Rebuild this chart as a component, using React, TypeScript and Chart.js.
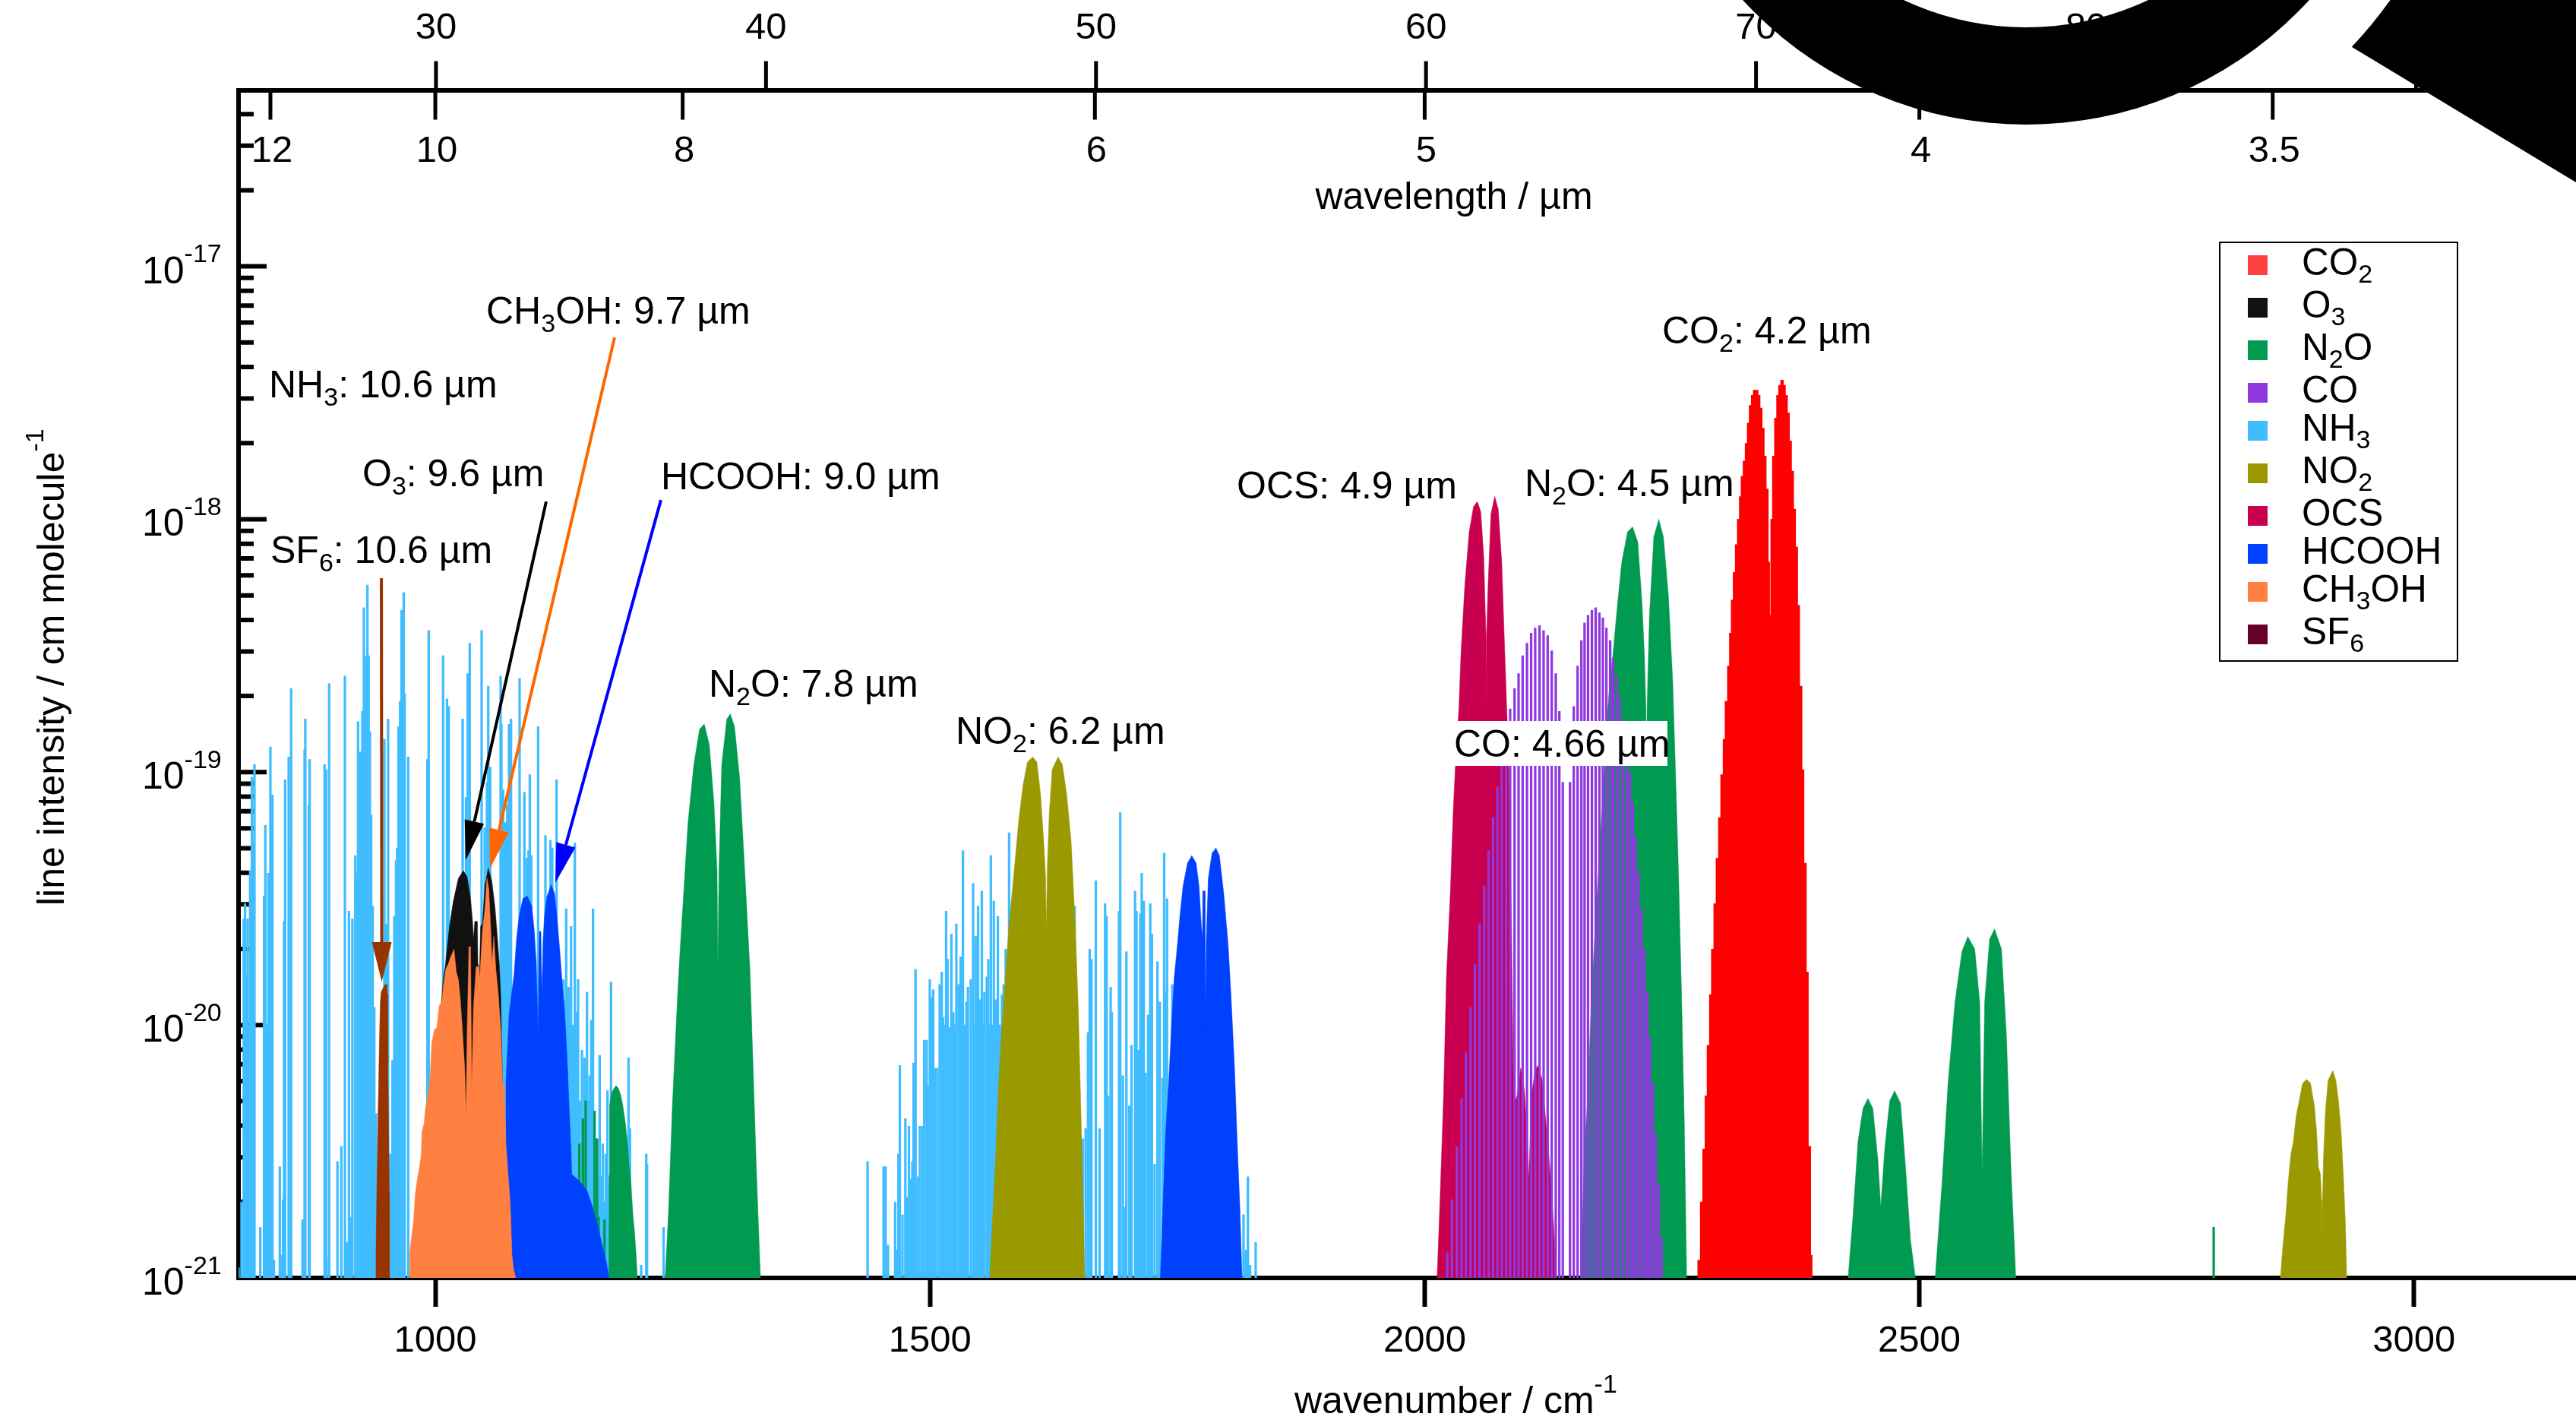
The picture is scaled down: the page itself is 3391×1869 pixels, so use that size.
import React, { useEffect, useRef } from "react";
import { Chart, registerables } from "chart.js";

Chart.register(...registerables);

const FONT = '"Liberation Sans", Arial, sans-serif';

// Axis values
const wavenumberTicks = [1000, 1500, 2000, 2500, 3000];
const wavelengthTicks = [12, 10, 8, 6, 5, 4, 3.5];
const frequencyTicks = [30, 40, 50, 60, 70, 80, 90];
const decadeExponents = [-17, -18, -19, -20, -21];
const minorMultipliers = [2, 3, 4, 5, 6, 7, 8, 9];
const X_MIN = 801.1;
const X_MAX = 3163.7;
const Y_MIN = 1e-21;
const Y_MAX = 4.98e-17;

// Each table: [wavenumber / cm-1, log10(line intensity)]
const nh3Lines = [
  [801.1,-20.96],[804.1,-20.70],[806.4,-19.58],[807.7,-19.52],[809,-19.8],[810.3,-19.58],[811.5,-20],[812.8,-19.39],[814.6,-19.02],[815.9,-19.28],[817.2,-18.97],
  [823.1,-20.80],[826.9,-19.49],[828.2,-19.21],[829.7,-20],[831.3,-19.40],[833.3,-18.90],[835.4,-19.09],[836.9,-20.93],
  [842.8,-20.56],[844.8,-20.91],[846.1,-20.69],[847.1,-19.59],[848.2,-19.03],[851.8,-18.94],[853,-19.3],[854.3,-18.67],
  [865.8,-20.77],[867.9,-18.91],[868.6,-18.79],[872.2,-19.13],[873,-18.95],[888.1,-18.97],[889.6,-18.99],[890.1,-20.92],[892.7,-18.65],
  [901.1,-20.54],[905,-20.48],[908.6,-18.62],[910.6,-20.86],[912.7,-19.55],[914.5,-20.76],[916.2,-19.58],[919.1,-19.33],[920.5,-19.4],[921.9,-18.80],[923,-19.5],[924.2,-18.92],
  [926.2,-18.76],[927.8,-18.35],[929,-18.57],[930.1,-18.54],[931.4,-18.26],[932.6,-18.54],[933.9,-18.84],[935.2,-19.17],[936.7,-19.53],[938.3,-19.93],[940,-20.35],
  [948.5,-18.87],[950.4,-19.6],[952.3,-18.79],[954.6,-20.51],[956.7,-20.14],[958.5,-19.57],[960.3,-19.35],[961.3,-19.30],[962.8,-18.82],[964.4,-18.72],[965.9,-18.36],[968,-18.29],[969,-18.69],[972.6,-18.94],
  [992,-18.95],[993.3,-18.44],[1007.9,-18.54],[1011.8,-18.71],[1013.5,-18.74],[1027.6,-18.79],[1031,-19.10],[1032.7,-18.61],[1034.8,-18.49],
  [1046.8,-18.44],[1049.9,-19.22],[1052.2,-19.04],[1053.5,-18.66],[1055.5,-18.98],[1066,-18.62],[1066.8,-18.81],[1068.6,-19.07],[1071.1,-19.20],[1072.7,-19.13],[1074.5,-18.81],[1076.5,-18.79],
  [1085.2,-18.63],[1090,-19.08],[1092.4,-19.34],[1094.2,-19.31],[1095.5,-19.01],[1097,-19.33],[1103.9,-18.82],[1111.3,-19.25],[1116.4,-19.27],[1118.2,-19.30],[1122.6,-19.03],
  [1129.5,-19.82],[1131,-19.9],[1132.3,-19.54],[1133.3,-19.9],[1134.6,-19.85],[1136,-19.95],[1137.2,-19.61],[1139,-20],[1141,-19.28],[1142.5,-19.95],[1144.3,-19.82],[1146,-20.3],
  [1148.2,-20.10],[1150.7,-20.13],[1152,-20.25],[1153.3,-19.87],[1154.5,-20.3],[1155.9,-20.20],[1157.6,-19.98],[1159.4,-19.54],[1161,-20.5],[1162.8,-20.45],[1164.5,-20.6],[1166.1,-20.12],[1167.6,-20.6],
  [1169.2,-20.47],[1170.8,-20.7],[1172.2,-20.51],[1174,-20.26],[1176,-20.6],[1177.6,-19.83],[1180,-20.7],[1182,-20.7],[1183.8,-20.75],[1187.3,-20.49],[1190.2,-20.86],[1192.2,-20.92],[1195.3,-20.13],[1196.8,-20.41],
  [1208.1,-20.95],[1213.2,-20.51],[1214,-20.55],[1230.7,-20.80],
  [1436.9,-20.54],[1453.1,-20.56],[1455.1,-20.56],[1457.5,-20.87],[1464.8,-20.70],[1466.3,-20.89],[1468.1,-20.51],[1469.5,-20.16],[1472.2,-20.75],[1475.1,-20.37],[1476.3,-20.68],[1478.7,-20.40],[1480.4,-20.61],[1482.2,-20.54],[1483.4,-20.15],[1485.4,-19.78],
  [1487.6,-20.6],[1489.8,-20.40],[1492.2,-20.40],[1494.2,-20.06],[1496.6,-20.06],[1497.7,-20.24],[1499.8,-19.82],[1501.6,-19.89],[1503.3,-19.86],[1505.1,-20.17],[1507.4,-20.17],[1509.8,-19.84],[1511.9,-19.79],[1513.3,-19.97],[1515,-20],[1516.3,-19.55],[1517.7,-19.74],[1519.8,-20.01],[1521.6,-19.64],[1523.6,-19.95],[1525,-20],[1526.6,-19.60],
  [1528.9,-19.84],[1531,-19.73],[1533.3,-19.31],[1535,-20],[1536.8,-19.91],[1538.3,-19.85],[1541.2,-19.82],[1543.6,-19.44],[1545,-20],[1546.2,-19.65],[1548.6,-19.53],[1550.5,-19.9],[1552.4,-19.47],[1553.7,-20],[1555,-19.87],[1557.4,-19.81],[1558.9,-19.74],[1560,-20],[1561.5,-19.33],[1563,-20],[1564.5,-19.51],[1566.5,-19.9],[1568.6,-19.57],[1570.7,-20],[1572.7,-19.88],[1574.4,-19.84],[1576.5,-19.70],[1580,-19.24],
  [1646.2,-19.53],[1654.4,-20.45],[1657.3,-20.41],[1659.7,-20.03],[1661.4,-19.70],[1663.2,-19.74],[1667.6,-19.43],[1671.4,-20.41],[1677,-19.52],[1678.5,-19.57],[1680.2,-20.28],[1682.6,-19.85],[1683.8,-19.95],
  [1691.1,-19.55],[1692.3,-19.16],[1694.9,-20.20],[1697,-20.72],[1698.5,-19.71],[1701.4,-20.32],[1703.7,-20.08],[1707.3,-19.47],[1708.7,-19.55],[1710.5,-20.1],[1712.6,-19.56],[1714,-19.40],[1716.1,-19.51],[1717.9,-20.19],[1720.5,-19.96],[1722.6,-19.52],[1724.3,-19.64],[1727,-20.55],[1729.9,-19.75],[1732.3,-19.91],[1735.2,-20.21],[1736.7,-19.32],[1738.1,-19.87],[1739.6,-19.50],[1744.9,-19.84],
  [1816.9,-20.75],[1819.2,-20.89],[1821.3,-20.60],[1823.6,-20.95],[1829.2,-20.86],
];

const coLines = [
  [2022.9,-20.90],[2027.6,-20.69],[2032.6,-20.48],[2037.3,-20.29],[2041.7,-20.11],[2046.4,-19.93],[2050.8,-19.76],[2055.5,-19.60],[2060.2,-19.45],[2064.6,-19.31],[2069.1,-19.18],[2073.5,-19.06],[2077.9,-18.95],[2082.3,-18.85],[2086.4,-18.75],[2090.8,-18.67],[2094.9,-18.61],[2099,-18.54],[2103.4,-18.49],[2107.6,-18.45],[2111.7,-18.43],[2116.1,-18.42],[2120.2,-18.44],[2124.3,-18.46],[2128.4,-18.52],[2132.5,-18.61],[2136.1,-18.76],[2139.6,-19.04],
  [2146.9,-19.04],[2150.7,-18.74],[2154.6,-18.58],[2158.4,-18.48],[2161.6,-18.41],[2165.1,-18.38],[2169,-18.36],[2172.8,-18.35],[2176.6,-18.37],[2180.1,-18.39],[2183.7,-18.43],[2187.5,-18.48],[2190.4,-18.55],[2193.9,-18.62],[2197.2,-18.70],[2200.7,-18.79],[2204.5,-18.90],[2207.5,-19.00],[2210.4,-19.12],[2213.3,-19.26],[2216.3,-19.39],[2219.2,-19.54],[2222.1,-19.70],[2225.1,-19.87],[2227.7,-20.05],[2230.7,-20.23],[2233.6,-20.43],[2236.6,-20.63],[2239.5,-20.84],
];

const co2Lines = [
  [2277.4,-20.93],[2280,-20.70],[2282.4,-20.49],[2284.7,-20.28],[2286.8,-20.08],[2289.2,-19.88],[2291.2,-19.70],[2293.6,-19.52],[2295.9,-19.34],[2298.3,-19.18],[2300.6,-19.01],[2303,-18.87],[2305,-18.72],[2307.4,-18.58],[2309.4,-18.45],[2311.2,-18.32],[2313.2,-18.21],[2315.3,-18.10],[2317.4,-18.00],[2319.4,-17.91],[2321.2,-17.83],[2323.2,-17.77],[2325.3,-17.70],[2327.4,-17.62],[2329.4,-17.55],[2331.5,-17.51],[2333.5,-17.49],[2335.6,-17.49],[2337.6,-17.51],[2339.7,-17.56],[2341.8,-17.64],[2343.8,-17.75],[2345.9,-17.88],[2347.3,-18.17],
  [2348.5,-18.64],[2350,-18.38],[2351.2,-18.00],[2352.9,-17.75],[2355,-17.60],[2357.1,-17.51],[2359.1,-17.47],[2361.2,-17.45],[2363.2,-17.47],[2365.3,-17.51],[2367.3,-17.58],[2369.4,-17.69],[2371.5,-17.81],[2373.5,-17.96],[2375.6,-18.11],[2377.6,-18.34],[2380,-18.66],[2382,-18.99],[2384.4,-19.36],[2386.4,-19.79],[2388.8,-20.48],[2390.2,-20.91],
];

const n2oWeakLines = [
  [1145.6,-20.47],[1149.2,-20.37],[1152,-20.30],[1161,-20.34],[1163.5,-20.45],[1165.1,-20.76],[1171,-20.77],[2797.5,-20.80],
];

// Filled band outlines
const n2oBand78 = [
  [1232.3,-21],[1235.8,-20.73],[1239.7,-20.31],[1244.8,-19.89],[1247.6,-19.69],[1251.5,-19.45],[1255.4,-19.2],[1261.3,-18.97],[1267.1,-18.83],[1271.8,-18.81],[1276.9,-18.89],[1281.6,-19.12],[1284.8,-19.39],[1285.6,-19.77],[1286.7,-19.39],[1289.5,-18.97],[1294.6,-18.79],[1298.1,-18.77],[1302.4,-18.82],[1307.5,-19.02],[1312.2,-19.35],[1318.1,-19.79],[1320.8,-20.12],[1324.7,-20.59],[1328.6,-21],
];
const n2oBand85 = [
  [1175.3,-21],[1175.8,-20.59],[1176.1,-20.32],[1178.1,-20.27],[1180.7,-20.25],[1182.7,-20.24],[1185,-20.25],[1187.6,-20.28],[1189.6,-20.32],[1192.2,-20.39],[1194.3,-20.47],[1196,-20.56],[1197.8,-20.63],[1199.9,-20.76],[1201.2,-20.81],[1203,-20.91],[1204.2,-21],
];
const n2oBand45 = [
  [2158.1,-21],[2161,-20.55],[2165.4,-20.24],[2168.4,-19.90],[2174.3,-19.48],[2178.7,-19.18],[2181.6,-18.99],[2186,-18.70],[2190.4,-18.53],[2194.8,-18.34],[2199.2,-18.17],[2205.1,-18.05],[2210.1,-18.03],[2215.4,-18.09],[2219.8,-18.34],[2222.2,-18.55],[2223.6,-18.74],[2224.2,-18.99],[2224.8,-18.74],[2227.2,-18.38],[2231.6,-18.07],[2236.6,-18.0],[2241.3,-18.07],[2246.3,-18.30],[2250.7,-18.64],[2253.6,-19.01],[2256.5,-19.39],[2259.5,-19.86],[2262.4,-20.38],[2264.8,-21],
];
const n2oBand39 = [
  [2428,-21],[2433,-20.75],[2438,-20.46],[2443,-20.33],[2448,-20.29],[2453,-20.33],[2458,-20.53],[2461,-20.72],[2465,-20.49],[2470,-20.30],[2475,-20.26],[2481,-20.31],[2486,-20.56],[2491,-20.85],[2496,-21],
];
const n2oBand29 = [
  [2516,-21],[2523,-20.62],[2529,-20.23],[2536,-19.91],[2543,-19.71],[2549,-19.65],[2556,-19.70],[2561,-19.91],[2563.4,-20.59],[2566,-19.91],[2571,-19.66],[2576,-19.62],[2583,-19.70],[2588,-20.04],[2592.5,-20.56],[2597.5,-21],
];
const ocsBand = [
  [2012.6,-21],[2015.6,-20.68],[2019.1,-20.28],[2022,-19.81],[2025.9,-19.48],[2028.8,-19.16],[2031.1,-18.97],[2034.7,-18.74],[2036.7,-18.53],[2040.6,-18.26],[2045,-18.05],[2049.4,-17.95],[2053.2,-17.93],[2056.7,-17.97],[2059.7,-18.15],[2062,-18.47],[2062.3,-18.76],[2062.6,-18.47],[2064.1,-18.26],[2067,-17.98],[2070.8,-17.91],[2074.3,-17.96],[2077.9,-18.17],[2080.8,-18.51],[2084.6,-18.93],[2086.7,-19.33],[2088.2,-19.75],[2089.9,-20.32],[2093.4,-20.28],[2097,-20.17],[2100.8,-20.26],[2103.7,-20.45],[2105.2,-20.61],[2108.1,-20.28],[2111.1,-20.19],[2114,-20.16],[2118.4,-20.21],[2122,-20.36],[2125.8,-20.53],[2130.2,-20.78],[2133.1,-21],
];
const no2Band62 = [
  [1560.3,-21],[1563.3,-20.76],[1566.2,-20.53],[1569.2,-20.24],[1572.1,-20.04],[1575.6,-19.84],[1579.5,-19.62],[1585.3,-19.38],[1589.7,-19.19],[1594.1,-19.05],[1598.5,-18.96],[1603.8,-18.94],[1608,-18.96],[1611.8,-19.09],[1614.7,-19.26],[1616.8,-19.41],[1617.6,-19.63],[1618.5,-19.38],[1620.6,-19.16],[1623.5,-18.99],[1629.4,-18.94],[1633.8,-18.97],[1638.2,-19.09],[1642.6,-19.27],[1645.6,-19.51],[1647.9,-19.72],[1650,-19.95],[1651.4,-20.17],[1653.8,-20.53],[1656.4,-21],
];
const no2Band34 = [
  [2864.9,-21],[2867.5,-20.87],[2870.2,-20.76],[2872.8,-20.62],[2875.5,-20.51],[2878.1,-20.46],[2880.8,-20.36],[2883.4,-20.31],[2887.4,-20.23],[2891.4,-20.215],[2895.4,-20.23],[2899.3,-20.32],[2901.5,-20.42],[2903.3,-20.56],[2905.4,-20.59],[2906.5,-20.69],[2906.8,-20.96],[2907.3,-20.72],[2908.6,-20.51],[2910.5,-20.34],[2913.1,-20.22],[2917.9,-20.18],[2921,-20.22],[2923.7,-20.30],[2926.4,-20.43],[2928.5,-20.59],[2930.6,-20.78],[2931.9,-21],
];
const hcoohBand90 = [
  [1070.9,-21],[1071.4,-20.23],[1074.5,-19.96],[1077,-19.88],[1079.6,-19.80],[1082.1,-19.66],[1084.7,-19.57],[1088.5,-19.50],[1093.1,-19.49],[1097.5,-19.53],[1100.1,-19.63],[1102.1,-19.76],[1103.1,-19.91],[1103.9,-20.06],[1104.7,-19.76],[1105.2,-19.63],[1106.7,-19.63],[1107.7,-19.88],[1109,-19.66],[1110.3,-19.57],[1112.9,-19.49],[1117.2,-19.445],[1120.5,-19.48],[1123.1,-19.58],[1125.7,-19.70],[1128.2,-19.83],[1130.8,-19.95],[1132.1,-20.05],[1133.3,-20.14],[1135.4,-20.34],[1137.2,-20.50],[1137.9,-20.59],[1143.6,-20.61],[1148.7,-20.63],[1153.8,-20.66],[1158.9,-20.72],[1164,-20.79],[1169.2,-20.88],[1173,-20.94],[1175.6,-21],
];
const hcoohBand56 = [
  [1732.8,-21],[1735.2,-20.74],[1738.1,-20.43],[1741.1,-20.24],[1744,-20.01],[1746.9,-19.81],[1749.9,-19.69],[1752.8,-19.56],[1755.8,-19.45],[1760.2,-19.36],[1764.6,-19.33],[1769,-19.36],[1771.9,-19.45],[1774.3,-19.61],[1775.4,-19.65],[1775.7,-19.47],[1777.8,-19.47],[1778.1,-20.02],[1779.3,-19.66],[1781.3,-19.42],[1785.1,-19.32],[1789,-19.30],[1792.5,-19.33],[1796.9,-19.48],[1801.3,-19.68],[1804.2,-19.88],[1807.8,-20.17],[1810.7,-20.48],[1813.1,-20.71],[1815.4,-21],
];
const o3Band = [
  [1005.4,-21],[1005.4,-19.95],[1007.9,-19.82],[1010,-19.77],[1011.8,-19.70],[1014.3,-19.61],[1018.2,-19.51],[1023.3,-19.42],[1028.4,-19.39],[1032.2,-19.415],[1035.6,-19.50],[1037.6,-19.59],[1038.6,-19.66],[1039.9,-19.59],[1042.5,-19.59],[1043,-19.76],[1043.7,-19.89],[1044.5,-19.81],[1045.8,-19.61],[1047.6,-19.60],[1050.1,-19.45],[1053.5,-19.38],[1057.1,-19.43],[1060.4,-19.54],[1062.9,-19.66],[1064.7,-19.76],[1066,-19.87],[1066.8,-20.02],[1068.1,-20.26],[1069.3,-20.31],[1069.9,-21],
];
const ch3ohBand = [
  [974.1,-21],[974.1,-20.9],[975.9,-20.84],[977.9,-20.78],[979.7,-20.67],[981.8,-20.61],[984.1,-20.56],[985.6,-20.52],[986.6,-20.42],[988.7,-20.39],[990,-20.33],[992.6,-20.28],[994.6,-20.21],[996.4,-20.07],[999,-20.02],[1001.5,-20.01],[1004.1,-19.92],[1006.6,-19.91],[1007.9,-19.85],[1010.5,-19.78],[1013,-19.76],[1015.6,-19.73],[1018.9,-19.70],[1021.2,-19.79],[1023.3,-19.82],[1025.3,-19.90],[1027.4,-20.02],[1029.7,-20.17],[1031,-20.36],[1032.2,-20.02],[1034,-19.69],[1035.6,-19.69],[1036.8,-20.25],[1038.6,-19.93],[1041.2,-19.77],[1043.7,-19.77],[1045,-19.81],[1047.6,-19.63],[1050.1,-19.54],[1052.2,-19.42],[1054,-19.46],[1056,-19.62],[1057.3,-19.76],[1059.1,-19.65],[1061.2,-19.78],[1063.7,-19.88],[1066.3,-20.03],[1068.1,-20.24],[1069.9,-20.23],[1071.4,-20.47],[1073.4,-20.58],[1075.7,-20.70],[1077.5,-20.91],[1079.3,-20.97],[1081.4,-21],
];
const sf6Band = [
  [940,-21],[940,-20.91],[940.8,-20.67],[941.8,-20.41],[942.6,-20.26],[943.4,-20.08],[944.4,-19.91],[945.2,-19.87],[946.5,-19.86],[949,-19.84],[951.1,-19.84],[951.6,-19.88],[952.1,-20.16],[952.9,-20.46],[953.6,-20.66],[953.6,-21],
];

// Species, in legend order
const legendEntries = ["CO_2", "O_3", "N_2O", "CO", "NH_3", "NO_2", "OCS", "HCOOH", "CH_3OH", "SF_6"];
const legendColors = ["#FF4040", "#111111", "#009A50", "#8F38E0", "#40BDFF", "#9A9A00", "#C8004F", "#0040FF", "#FF8040", "#660029"];
const SF6_PLOT_COLOR = "#993300";

// Band labels
const bandLabels = ["CH_3OH: 9.7 µm", "NH_3: 10.6 µm", "O_3: 9.6 µm", "HCOOH: 9.0 µm", "SF_6: 10.6 µm", "N_2O: 7.8 µm", "NO_2: 6.2 µm", "OCS: 4.9 µm", "N_2O: 4.5 µm", "CO: 4.66 µm", "CO_2: 4.2 µm"];
const bandLabelX = [640, 354, 477, 870, 356, 933, 1258, 1628, 2007, 1914, 2188];
const bandLabelY = [426, 523, 640, 644, 741, 917, 979, 656, 653, 996, 452];

// Arrows: [start wavenumber, start log I, tip wavenumber, tip log I]
const arrowColors = [SF6_PLOT_COLOR, "#000000", "#FF6600", "#0000FF"];
const arrowEnds = [
  [945.5, -18.233, 945.9, -19.828],
  [1112.1, -17.93, 1030.7, -19.348],
  [1181.2, -17.281, 1055.3, -19.381],
  [1228, -17.924, 1121.3, -19.438],
];

const toPoints = (rows: number[][]) => rows.map(([x, e]) => ({ x, y: Math.pow(10, e) }));

const band = (label: string, rows: number[][], color: string) => ({
  type: "line" as const,
  label,
  data: toPoints(rows),
  backgroundColor: color,
  borderColor: color,
  borderWidth: 0.5,
  pointRadius: 0,
  tension: 0,
  fill: "start",
});

const sticks = (label: string, rows: number[][], color: string, thickness: number) => ({
  type: "bar" as const,
  label,
  data: toPoints(rows),
  backgroundColor: color,
  borderWidth: 0,
  barThickness: thickness,
  grouped: false,
});

function drawRich(ctx: CanvasRenderingContext2D, text: string, x: number, y: number, size: number) {
  const small = Math.round(size * 0.68);
  const parts = text.split(/(_\d|\^-?\d+)/).filter(Boolean);
  let cx = x;
  ctx.textAlign = "left";
  ctx.textBaseline = "alphabetic";
  ctx.fillStyle = "#000";
  for (const p of parts) {
    if (p[0] === "_") {
      ctx.font = `${small}px ${FONT}`;
      ctx.fillText(p.slice(1), cx, y + size * 0.21);
      cx += ctx.measureText(p.slice(1)).width;
    } else if (p[0] === "^") {
      ctx.font = `${small}px ${FONT}`;
      ctx.fillText(p.slice(1), cx, y - size * 0.55);
      cx += ctx.measureText(p.slice(1)).width;
    } else {
      ctx.font = `${size}px ${FONT}`;
      ctx.fillText(p, cx, y);
      cx += ctx.measureText(p).width;
    }
  }
}

const axisPlugin = {
  id: "axisExtras",
  beforeDatasetsDraw(chart: any) {
    const ctx = chart.ctx;
    const { y, xTop } = chart.scales;
    const area = chart.chartArea;
    ctx.save();
    ctx.strokeStyle = "#000";
    ctx.lineWidth = 6;
    ctx.beginPath();
    for (const exp of decadeExponents) {
      const py = y.getPixelForValue(Math.pow(10, exp));
      ctx.moveTo(area.left, py);
      ctx.lineTo(area.left + 37, py);
    }
    for (const exp of decadeExponents) {
      for (const m of minorMultipliers) {
        const v = m * Math.pow(10, exp);
        if (v > Y_MAX) continue;
        const py = y.getPixelForValue(v);
        ctx.moveTo(area.left, py);
        ctx.lineTo(area.left + 20, py);
      }
    }
    ctx.stroke();
    ctx.lineWidth = 5;
    ctx.beginPath();
    for (const w of wavelengthTicks) {
      const px = xTop.getPixelForValue(10000 / w);
      ctx.moveTo(px, area.top);
      ctx.lineTo(px, area.top + 39);
    }
    for (const f of frequencyTicks) {
      const px = xTop.getPixelForValue(f * 33.356);
      ctx.moveTo(px, area.top);
      ctx.lineTo(px, area.top - 38);
    }
    ctx.stroke();
    ctx.restore();

    ctx.save();
    for (const exp of decadeExponents) {
      const py = y.getPixelForValue(Math.pow(10, exp));
      drawRich(ctx, `10^${exp}`, 187, py + 22, 50);
    }
    ctx.font = `49px ${FONT}`;
    ctx.textAlign = "center";
    ctx.textBaseline = "alphabetic";
    ctx.fillStyle = "#000";
    for (const w of wavelengthTicks) ctx.fillText(String(w), xTop.getPixelForValue(10000 / w) + 2, 213);
    for (const f of frequencyTicks) ctx.fillText(String(f), xTop.getPixelForValue(f * 33.356), 51);

    ctx.font = `50px ${FONT}`;
    ctx.fillText("wavelength / µm", 1914, 275);
    ctx.restore();

    ctx.save();
    drawRich(ctx, "wavenumber / cm^-1", 1704, 1860, 50);
    ctx.translate(84, 1192);
    ctx.rotate(-Math.PI / 2);
    drawRich(ctx, "line intensity / cm molecule^-1", 0, 0, 50);
    ctx.restore();
  },
  afterDraw(chart: any) {
    const ctx = chart.ctx;
    const { x, y } = chart.scales;
    ctx.save();

    // arrows
    arrowEnds.forEach(([x0, e0, x1, e1], i) => {
      const sx = x.getPixelForValue(x0);
      const sy = y.getPixelForValue(Math.pow(10, e0));
      const tx = x.getPixelForValue(x1);
      const ty = y.getPixelForValue(Math.pow(10, e1));
      const len = Math.hypot(sx - tx, sy - ty);
      const ux = (sx - tx) / len;
      const uy = (sy - ty) / len;
      const bx = tx + ux * 52;
      const by = ty + uy * 52;
      ctx.strokeStyle = arrowColors[i];
      ctx.fillStyle = arrowColors[i];
      ctx.lineWidth = 4;
      ctx.beginPath();
      ctx.moveTo(sx, sy);
      ctx.lineTo(bx, by);
      ctx.stroke();
      ctx.beginPath();
      ctx.moveTo(tx, ty);
      ctx.lineTo(bx - uy * 13, by + ux * 13);
      ctx.lineTo(bx + uy * 13, by - ux * 13);
      ctx.closePath();
      ctx.fill();
    });

    // band labels
    ctx.fillStyle = "#fff";
    ctx.fillRect(1915, 949, 280, 59);
    bandLabels.forEach((t, i) => drawRich(ctx, t, bandLabelX[i], bandLabelY[i], 50));

    // legend
    ctx.fillStyle = "#fff";
    ctx.fillRect(2922, 319, 313, 551);
    ctx.strokeStyle = "#000";
    ctx.lineWidth = 2;
    ctx.strokeRect(2922, 319, 313, 551);
    const legendCenters = [349, 405, 461, 517, 567, 623, 679, 729, 779, 835];
    legendEntries.forEach((t, i) => {
      ctx.fillStyle = legendColors[i];
      ctx.fillRect(2959, legendCenters[i] - 13, 26, 26);
      drawRich(ctx, t, 3030, legendCenters[i] + 13, 49.5);
    });

    // overprinted black shapes at the upper right
    ctx.fillStyle = "#000";
    ctx.beginPath();
    ctx.arc(2667, -342, 506, 0, Math.PI * 2);
    ctx.arc(2667, -342, 378, 0, Math.PI * 2, true);
    ctx.fill();
    ctx.beginPath();
    const a0 = Math.atan2(342, 3146 - 2667);
    const a1 = Math.atan2(62 + 342, 3096 - 2667);
    ctx.moveTo(3146, 0);
    ctx.arc(2667, -342, 589, a0, a1);
    ctx.lineTo(3391, 240);
    ctx.lineTo(3391, 0);
    ctx.closePath();
    ctx.fill();
    ctx.restore();
  },
};

export default function App() {
  const ref = useRef<HTMLCanvasElement | null>(null);
  useEffect(() => {
    document.body.style.margin = "0";
    const ctx = ref.current!.getContext("2d")!;
    const [, o3, n2o, co, nh3, no2, ocs, hcooh, ch3oh] = legendColors;
    const datasets: any[] = [
      sticks("NH3", nh3Lines, nh3, 2.6),
      sticks("N2O", n2oWeakLines, n2o, 2.6),
      band("N2O", n2oBand85, n2o),
      band("N2O", n2oBand78, n2o),
      band("N2O", n2oBand45, n2o),
      band("N2O", n2oBand39, n2o),
      band("N2O", n2oBand29, n2o),
      band("OCS", ocsBand, ocs),
      sticks("CO", coLines, co, 2.6),
      band("NO2", no2Band62, no2),
      band("NO2", no2Band34, no2),
      band("HCOOH", hcoohBand90, hcooh),
      band("HCOOH", hcoohBand56, hcooh),
      band("O3", o3Band, o3),
      band("CH3OH", ch3ohBand, ch3oh),
      band("SF6", sf6Band, SF6_PLOT_COLOR),
      sticks("CO2", co2Lines, "#FF0000", 3.8),
    ];
    datasets.forEach((d, i) => {
      d.order = datasets.length - i;
    });
    const chart = new Chart(ctx, {
      type: "line",
      data: { datasets },
      plugins: [axisPlugin],
      options: {
        animation: false,
        responsive: false,
        devicePixelRatio: 1,
        events: [],
        layout: { padding: 0, autoPadding: false },
        plugins: { legend: { display: false }, tooltip: { enabled: false }, title: { display: false } },
        scales: {
          x: {
            type: "linear",
            position: "bottom",
            min: X_MIN,
            max: X_MAX,
            offset: false,
            afterBuildTicks: (s: any) => {
              s.ticks = wavenumberTicks.map((value) => ({ value }));
            },
            afterFit: (s: any) => {
              s.height = 187;
            },
            grid: { display: true, drawOnChartArea: false, drawTicks: true, tickLength: 38, tickWidth: 6, tickColor: "#000", offset: false },
            border: { display: true, width: 6, color: "#000" },
            ticks: {
              autoSkip: false,
              maxRotation: 0,
              minRotation: 0,
              padding: 16,
              color: "#000",
              font: { family: FONT, size: 49 },
              callback: (v: any) => String(v),
            },
          },
          xTop: {
            type: "linear",
            position: "top",
            min: X_MIN,
            max: X_MAX,
            offset: false,
            afterFit: (s: any) => {
              s.height = 118.5;
            },
            grid: { display: false },
            border: { display: true, width: 6, color: "#000" },
            ticks: { display: false },
          },
          y: {
            type: "logarithmic",
            position: "left",
            min: Y_MIN,
            max: Y_MAX,
            afterFit: (s: any) => {
              s.width = 314;
            },
            grid: { display: false },
            border: { display: true, width: 6, color: "#000" },
            ticks: { display: false },
          },
        },
      } as any,
    });
    return () => chart.destroy();
  }, []);
  return (
    <div style={{ position: "absolute", left: 0, top: 0, width: 3391, height: 1869, overflow: "hidden", background: "#fff" }}>
      <canvas ref={ref} width={3391} height={1869} style={{ display: "block", width: 3391, height: 1869 }} />
    </div>
  );
}
